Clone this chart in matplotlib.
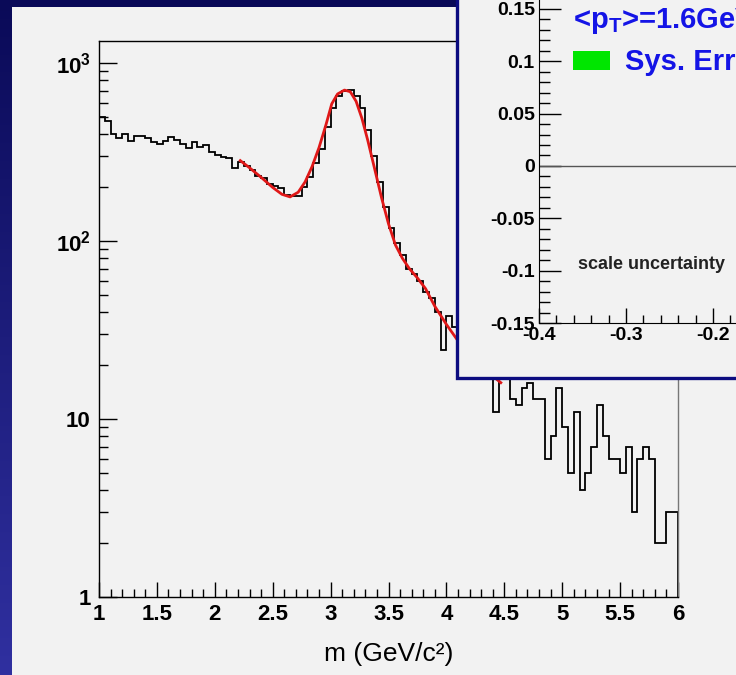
import numpy as np
import matplotlib
matplotlib.use("Agg")
import matplotlib.pyplot as plt
from matplotlib.patches import Rectangle
from matplotlib.ticker import FixedLocator, MultipleLocator, FuncFormatter, LogLocator, NullFormatter

plt.rcParams['font.family'] = ['Liberation Sans', 'DejaVu Sans']
plt.rcParams['axes.unicode_minus'] = False
plt.rcParams['mathtext.fontset'] = 'custom'
plt.rcParams['mathtext.rm'] = 'Liberation Sans'
plt.rcParams['mathtext.bf'] = 'Liberation Sans:bold'

# histogram, 0.05 GeV bins from 1 to 6
bin_lo = 1.0
bin_w = 0.05
counts = [500, 475, 397, 380, 397, 365, 391, 391, 378, 361,
          349, 365, 385, 369, 352, 334, 361, 339, 345, 317,
          305, 298, 292, 256, 279, 265, 250, 233, 226, 210,
          204, 198, 181, 178, 180, 200, 230, 275, 330, 440,
          560, 655, 695, 705, 650, 560, 420, 300, 215, 155,
          118, 97, 83, 70, 65, 60, 52, 48, 40, 24.5,
          38, 33, 28, 25, 26, 21, 22, 19, 11, 17,
          17, 13, 12, 15, 16, 13, 13, 6, 8, 15,
          9, 5, 11, 4, 5, 7, 12, 8, 6, 6,
          5, 7, 3, 6, 7, 6, 2, 2, 3, 3]

# fit curve
fit_m = [2.22, 2.30, 2.40, 2.50, 2.58, 2.65, 2.72, 2.78, 2.84, 2.90, 2.96,
         3.01, 3.06, 3.12, 3.17, 3.22, 3.27, 3.32, 3.38, 3.44, 3.50, 3.56,
         3.62, 3.68, 3.75, 3.82, 3.90, 4.00, 4.10, 4.25, 4.47]
fit_v = [283, 258, 228, 200, 183, 177, 188, 215, 262, 335, 450,
         590, 670, 705, 690, 610, 490, 370, 255, 175, 125, 95,
         80, 70, 62, 54, 43, 34, 27.5, 21, 16]

x_ticks = [1, 1.5, 2, 2.5, 3, 3.5, 4, 4.5, 5, 5.5, 6]
y_ticks = [1, 10, 100, 1000]
y_labels = ['1', '10', r'$\mathbf{10^{2}}$', r'$\mathbf{10^{3}}$']

inset_label = r'<p$_\mathbf{T}$>=1.6GeV/c'
inset_legend = 'Sys. Error'
inset_note = 'scale uncertainty'

W, H = 736, 675
fig = plt.figure(figsize=(W / 100, H / 100), dpi=100)

# slide background + white panel
bg = fig.add_axes([0, 0, 1, 1], zorder=-10)
grad = np.linspace(0, 1, 256).reshape(-1, 1)
bg.imshow(grad, aspect='auto', extent=[0, 1, 0, 1],
          cmap=matplotlib.colors.LinearSegmentedColormap.from_list('bg', ['#0a0a58', '#3030a0']))
bg.add_patch(Rectangle((12 / W, 0), 1, 1 - 7 / H, facecolor='#f2f2f2', edgecolor='none'))
bg.set_xlim(0, 1)
bg.set_ylim(0, 1)
bg.axis('off')

# main histogram
ax = fig.add_axes([99 / W, 1 - 597 / H, (678 - 99) / W, (597 - 41) / H])
ax.set_facecolor('none')
edges = bin_lo + bin_w * np.arange(len(counts) + 1)
ax.stairs(counts, edges, color='black', lw=1.3)
ax.plot(fit_m, fit_v, color='#e01818', lw=2)

ax.set_yscale('log')
ax.set_xlim(1, 6)
ax.set_ylim(1, 1330)
ax.xaxis.set_major_locator(FixedLocator(x_ticks))
ax.xaxis.set_minor_locator(MultipleLocator(0.1))
ax.xaxis.set_major_formatter(FuncFormatter(lambda v, p: f'{v:g}'))
ax.yaxis.set_major_locator(FixedLocator(y_ticks))
ax.yaxis.set_major_formatter(FuncFormatter(lambda v, p: y_labels[y_ticks.index(round(v))] if round(v) in y_ticks else ''))
ax.yaxis.set_minor_locator(LogLocator(base=10, subs=np.arange(2, 10)))
ax.yaxis.set_minor_formatter(NullFormatter())
ax.tick_params(axis='x', which='major', direction='in', length=11, width=1, labelsize=16, pad=5)
ax.tick_params(axis='x', which='minor', direction='in', length=6, width=1)
ax.tick_params(axis='y', which='major', direction='in', length=13, width=1, labelsize=16, pad=6)
ax.tick_params(axis='y', which='minor', direction='in', length=6.5, width=1)
for lab in ax.get_xticklabels() + ax.get_yticklabels():
    lab.set_fontweight('bold')
for s in ax.spines.values():
    s.set_linewidth(1)
ax.spines['right'].set_color('#777777')
ax.set_xlabel('m (GeV/c²)', fontsize=19, labelpad=12)

# inset pad
fig.add_artist(Rectangle((457 / W, 1 - 378 / H), 1, 1, transform=fig.transFigure,
                         facecolor='#f2f2f2', edgecolor='#0c0c80', lw=2.4, zorder=1))

px_x = 870.0
px_y = 1047.0
ax_in = fig.add_axes([539 / W, 1 - 323 / H, 0.8 * px_x / W, 0.4 * px_y / H], zorder=2)
ax_in.set_facecolor('none')
ax_in.set_xlim(-0.4, 0.4)
ax_in.set_ylim(-0.15, 0.25)
ax_in.axhline(0, color='#555555', lw=1)
ax_in.xaxis.set_major_locator(MultipleLocator(0.1))
ax_in.xaxis.set_minor_locator(MultipleLocator(0.02))
ax_in.yaxis.set_major_locator(MultipleLocator(0.05))
ax_in.yaxis.set_minor_locator(MultipleLocator(0.01))
fmt = FuncFormatter(lambda v, p: f'{round(v, 3) + 0:g}')
ax_in.xaxis.set_major_formatter(fmt)
ax_in.yaxis.set_major_formatter(fmt)
ax_in.tick_params(axis='x', which='major', direction='in', length=11, width=1, labelsize=14, pad=3)
ax_in.tick_params(axis='x', which='minor', direction='in', length=6, width=1)
ax_in.tick_params(axis='y', which='major', direction='in', length=16, width=1, labelsize=14, pad=3)
ax_in.tick_params(axis='y', which='minor', direction='in', length=8, width=1)
for lab in ax_in.get_xticklabels() + ax_in.get_yticklabels():
    lab.set_fontweight('bold')

ax_in.text(-0.361, 0.139, inset_label, color='#1414e6', fontsize=21, fontweight='bold',
           va='center', ha='left')
ax_in.add_patch(Rectangle((-0.361, 0.0912), 0.043, 0.0182, facecolor='#00e600', edgecolor='none'))
ax_in.text(-0.301, 0.0989, inset_legend, color='#1414e6', fontsize=21, fontweight='bold',
           va='center', ha='left')
ax_in.text(-0.355, -0.094, inset_note, color='#222222', fontsize=13, fontweight='bold',
           va='center', ha='left')

fig.savefig('out.png', dpi=100)
